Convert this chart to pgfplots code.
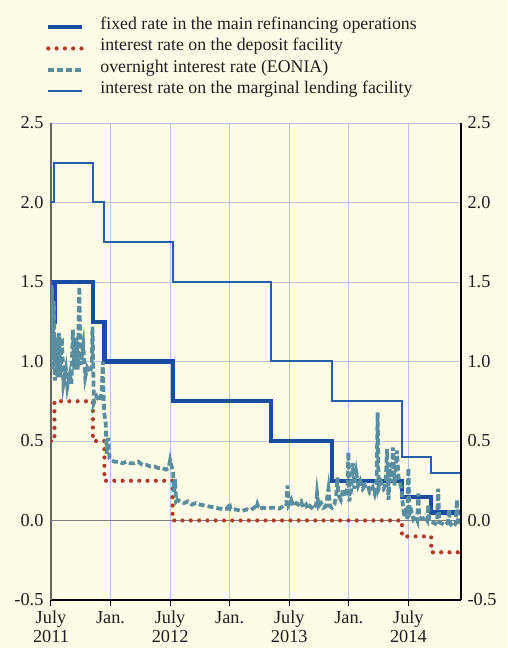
\documentclass[border=0pt]{standalone}
\usepackage{fontspec}
\setmainfont{Liberation Serif}
\usepackage{pgfplots}
\pgfplotsset{compat=1.18}
\definecolor{bg}{RGB}{254,252,230}
\definecolor{mro}{RGB}{24,78,160}
\definecolor{mlf}{RGB}{36,94,174}
\definecolor{dep}{RGB}{180,56,44}
\definecolor{eon}{RGB}{88,142,160}
\definecolor{gridc}{RGB}{184,196,234}
\definecolor{txt}{RGB}{30,30,30}
\begin{document}
\begin{tikzpicture}
\useasboundingbox (0,0) rectangle (507pt,648pt);
\fill[bg] (0,0) rectangle (507pt,648pt);
\begin{axis}[
  scale only axis, width=410pt, height=477pt, at={(51pt,48pt)}, anchor=south west,
  xmin=0, xmax=41.3, ymin=-0.5, ymax=2.5,
  axis x line*=bottom, axis y line*=left,
  x axis line style={black, line width=1.2pt},
  y axis line style={black!60, line width=1.6pt},
  xtick={0,6,12,18,24,30,36},
  xticklabels={{July\\2011},{Jan.},{July\\2012},{Jan.},{July\\2013},{Jan.},{July\\2014}},
  xtick align=outside, major tick length=6pt,
  xtick style={black, line width=1pt},
  ytick={-0.5,0,0.5,1,1.5,2,2.5},
  yticklabels={-0.5,0.0,0.5,1.0,1.5,2.0,2.5},
  ytick style={draw=none},
  grid=major, major grid style={gridc, line width=0.9pt},
  xticklabel style={align=center, font=\fontsize{18.3}{19}\selectfont, text=txt, yshift=-4pt, inner ysep=1pt},
  yticklabel style={font=\fontsize{18.3}{21}\selectfont, text=txt, xshift=-4pt},
  legend cell align=left,
  legend image code/.code={\draw[#1] (0pt,0pt) -- (34pt,0pt);},
  legend style={draw=none, fill=none, at={(0,1)}, anchor=north west, xshift=-5pt, yshift=107pt,
    inner sep=0pt, row sep=0pt, column sep=16pt,
    nodes={inner sep=0pt, text height=13pt, text depth=8.5pt, font=\fontsize{17.8}{21}\selectfont, text=txt}},
]
\addplot[black!50, line width=1.6pt, forget plot] coordinates {(0,0) (41.3,0)};
% main refinancing operations
\addplot[mro, line width=4.2pt] coordinates {
(0,1.25) (0.35,1.25) (0.35,1.5) (4.22,1.5) (4.22,1.25) (5.38,1.25) (5.38,1.0)
(12.25,1.0) (12.25,0.75) (22.15,0.75) (22.15,0.5) (28.3,0.5) (28.3,0.25)
(35.35,0.25) (35.35,0.15) (38.3,0.15) (38.3,0.05) (41.3,0.05)};
\addlegendentry{fixed rate in the main refinancing operations}
% deposit facility
\addplot[dep, line width=4.2pt, line cap=round, dash pattern=on 0pt off 8.3pt] coordinates {
(0,0.5) (0.35,0.5) (0.35,0.75) (4.22,0.75) (4.22,0.5) (5.38,0.5) (5.38,0.25)
(12.25,0.25) (12.25,0) (35.35,0) (35.35,-0.1) (38.3,-0.1) (38.3,-0.2) (41.3,-0.2)};
\addlegendentry{interest rate on the deposit facility}
% EONIA
\addplot[eon, line width=3.8pt, dash pattern=on 6pt off 3pt] coordinates {
(0.00,1.05) (0.08,1.48) (0.18,0.95) (0.28,1.38) (0.40,0.88) (0.50,1.15) (0.65,0.90)
(0.80,1.18) (0.95,0.90) (1.10,1.15) (1.25,0.86) (1.50,0.95) (1.65,0.84) (1.90,0.92)
(2.05,0.86) (2.20,1.20) (2.35,0.95) (2.55,1.15) (2.70,0.95) (2.85,1.47) (2.98,0.98)
(3.25,1.10) (3.45,0.90) (3.65,0.96) (3.90,0.93) (4.10,0.97) (4.18,1.22) (4.32,0.74)
(4.60,0.78) (4.90,0.75) (5.10,0.80) (5.22,1.00) (5.35,0.68) (5.50,0.62) (5.62,0.42)
(5.75,0.52) (5.90,0.39) (6.05,0.38)
(6.40,0.37) (6.80,0.37) (7.20,0.36) (7.60,0.37) (8.00,0.36) (8.40,0.36) (8.80,0.37)
(9.20,0.35) (9.60,0.35) (10.00,0.34) (10.40,0.34) (10.80,0.33) (11.20,0.33) (11.60,0.32)
(11.85,0.33) (12.00,0.38) (12.15,0.34) (12.30,0.30) (12.40,0.18) (12.50,0.26) (12.60,0.12)
(12.75,0.13) (13.00,0.12) (13.40,0.11) (13.80,0.12) (14.20,0.10) (14.60,0.11) (15.00,0.10)
(15.40,0.095) (15.80,0.09) (16.20,0.085) (16.60,0.08) (17.00,0.075) (17.40,0.07) (17.80,0.075)
(17.95,0.11) (18.10,0.07) (18.50,0.07) (18.90,0.065) (19.30,0.06) (19.70,0.07) (20.10,0.065)
(20.57,0.085) (20.70,0.07) (20.80,0.10) (20.95,0.075) (21.40,0.08) (21.80,0.075) (22.20,0.08)
(22.60,0.08) (23.00,0.075) (23.40,0.09) (23.70,0.09) (23.82,0.22) (23.95,0.10) (24.20,0.13)
(24.40,0.09) (24.70,0.11) (24.90,0.10) (25.20,0.12) (25.40,0.08) (25.70,0.10) (25.90,0.07)
(26.10,0.09) (26.40,0.07) (26.70,0.10) (26.80,0.17) (26.95,0.09) (27.20,0.11) (27.45,0.08)
(27.70,0.09) (27.95,0.20) (28.10,0.09) (28.30,0.08) (28.55,0.10) (28.75,0.17) (28.85,0.27)
(28.95,0.16) (29.20,0.13) (29.45,0.20) (29.65,0.15) (29.85,0.21) (29.95,0.43) (30.05,0.12)
(30.25,0.20) (30.40,0.36) (30.55,0.20) (30.75,0.30) (30.95,0.22) (31.15,0.25) (31.40,0.20)
(31.70,0.23) (31.90,0.22) (32.10,0.18) (32.40,0.21) (32.60,0.17) (32.80,0.24) (32.90,0.68)
(33.00,0.20) (33.25,0.24) (33.50,0.20) (33.70,0.22) (33.85,0.45) (34.00,0.13) (34.15,0.36)
(34.30,0.24) (34.45,0.46) (34.60,0.22) (34.85,0.44) (35.00,0.27) (35.15,0.24) (35.30,0.20)
(35.45,0.09) (35.60,0.02) (35.75,0.08) (35.90,0.01) (36.00,0.33) (36.10,0.04) (36.30,0.06)
(36.50,0.01) (36.70,0.03) (36.90,0.00) (37.00,0.17) (37.10,0.02) (37.40,0.01) (37.70,0.02)
(37.90,0.00) (38.00,0.10) (38.10,0.00) (38.40,-0.01) (38.70,-0.02) (38.90,0.00) (39.00,0.20)
(39.10,-0.01) (39.40,-0.02) (39.70,-0.03) (40.00,-0.01) (40.10,0.07) (40.20,-0.02) (40.50,-0.04)
(40.75,-0.02) (40.90,0.13) (41.00,-0.01) (41.30,-0.01)};
\addlegendentry{overnight interest rate (EONIA)}
% marginal lending facility
\addplot[mlf, line width=2pt] coordinates {
(0,2.0) (0.35,2.0) (0.35,2.25) (4.22,2.25) (4.22,2.0) (5.38,2.0) (5.38,1.75)
(12.25,1.75) (12.25,1.5) (22.15,1.5) (22.15,1.0) (28.3,1.0) (28.3,0.75)
(35.35,0.75) (35.35,0.4) (38.3,0.4) (38.3,0.3) (41.3,0.3)};
\addlegendentry{interest rate on the marginal lending facility}
\end{axis}
\begin{axis}[
  scale only axis, width=410pt, height=477pt, at={(51pt,48pt)}, anchor=south west,
  xmin=0, xmax=41.3, ymin=-0.5, ymax=2.5,
  axis y line*=right, axis x line=none,
  y axis line style={black, line width=1.2pt},
  ytick={-0.5,0,0.5,1,1.5,2,2.5},
  yticklabels={-0.5,0.0,0.5,1.0,1.5,2.0,2.5},
  ytick style={draw=none},
  yticklabel style={font=\fontsize{18.3}{21}\selectfont, text=txt, xshift=3pt},
]
\addplot[draw=none] coordinates {(0,0)};
\end{axis}
\end{tikzpicture}
\end{document}
